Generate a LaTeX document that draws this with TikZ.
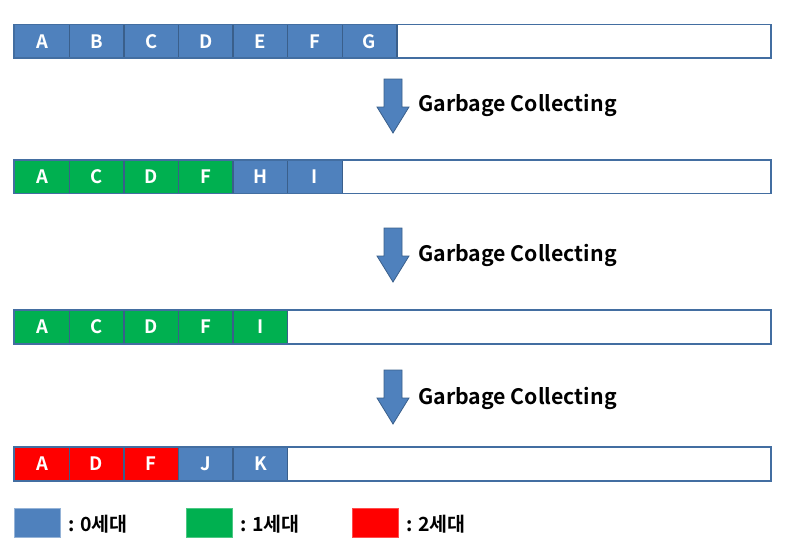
\documentclass[tikz,border=0pt]{standalone}
\usepackage{fontspec}
\setmainfont{Noto Sans CJK KR}[BoldFont={* Bold}]
\newfontfamily\kr{Noto Sans CJK KR Bold}
\definecolor{gblue}{HTML}{4F81BD}
\definecolor{gedge}{HTML}{3A5F8B}
\definecolor{ggreen}{HTML}{00B050}
\definecolor{gred}{HTML}{FF0000}
\begin{document}
\begin{tikzpicture}[x=1pt,y=-1pt,
  cell/.style={draw=gedge,line width=1.3pt,minimum width=54.6pt,minimum height=33pt,inner sep=0pt,anchor=west,
    text=white,font=\kr\fontsize{18.5}{18.5}\selectfont},
  g0/.style={cell,fill=gblue},
  g1/.style={cell,fill=ggreen},
  g2/.style={cell,fill=gred},
  barbox/.style={draw=gblue!85!black,line width=1.6pt},
  gclabel/.style={anchor=west,inner sep=0pt,font=\kr\fontsize{21.3}{21.3}\selectfont},
  blockarrow/.style={fill=gblue,draw=gedge,line width=0.8pt},
  legbox/.style={minimum width=46pt,minimum height=29pt,inner sep=0pt,anchor=west,draw=gblue!60!white,line width=0.5pt},
  legtext/.style={anchor=west,inner sep=0pt,font=\kr\fontsize{19.5}{19.5}\selectfont}]
\useasboundingbox (0,0) rectangle (787,554);
% bar 1
\draw[barbox] (14,24.5) rectangle (771,58);
\foreach \l [count=\i from 0] in {A,B,C,D,E,F,G}
  \node[g0] (r1c\i) at (14+\i*54.6,41.3) {\l};
\draw[barbox] (14,24.5) rectangle (771,58);
% bar 2
\draw[barbox] (14,160) rectangle (771,193.5);
\foreach \l/\s [count=\i from 0] in {A/g1,C/g1,D/g1,F/g1,H/g0,I/g0}
  \node[\s] (r2c\i) at (14+\i*54.6,176.7) {\l};
\draw[barbox] (14,160) rectangle (771,193.5);
% bar 3
\draw[barbox] (14,310) rectangle (771,344);
\foreach \l/\s [count=\i from 0] in {A/g1,C/g1,D/g1,F/g1,I/g1}
  \node[\s] (r3c\i) at (14+\i*54.6,327) {\l};
\draw[barbox] (14,310) rectangle (771,344);
% bar 4
\draw[barbox] (14,447) rectangle (771,481);
\foreach \l/\s [count=\i from 0] in {A/g2,D/g2,F/g2,J/g0,K/g0}
  \node[\s] (r4c\i) at (14+\i*54.6,464) {\l};
\draw[barbox] (14,447) rectangle (771,481);
% arrows
\foreach \t/\n in {79/1,228/2,370/3}{
  \draw[blockarrow] (384,\t) -- (402,\t) -- (402,\t+28) -- (409,\t+28) -- (393,\t+54) -- (377,\t+28) -- (384,\t+28) -- cycle;
}
\node[gclabel] (gc1) at (418,105.5) {Garbage Collecting};
\node[gclabel] (gc2) at (418,255.5) {Garbage Collecting};
\node[gclabel] (gc3) at (418,398.5) {Garbage Collecting};
% legend
\node[legbox,fill=gblue] (l0) at (14,522.5) {};
\node[legtext] (t0) at (68,524) {: 0세대};
\node[legbox,fill=ggreen,draw=ggreen!70!white] (l1) at (186,522.5) {};
\node[legtext] (t1) at (240,524) {: 1세대};
\node[legbox,fill=gred,draw=gred!70!white] (l2) at (352,522.5) {};
\node[legtext] (t2) at (406,524) {: 2세대};
\end{tikzpicture}
\end{document}
